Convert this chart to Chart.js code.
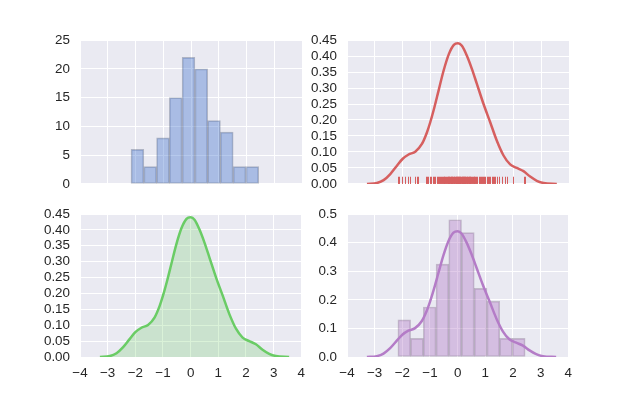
<!DOCTYPE html>
<html>
<head>
<meta charset="utf-8">
<script src="https://cdn.jsdelivr.net/npm/chart.js@4"></script>
<style>
  body { margin: 0; background: #ffffff; }
  #fig { position: relative; width: 632px; height: 397px; overflow: hidden; }
  #fig canvas { position: absolute; }
</style>
</head>
<body>
<div id="fig"></div>
<script>
// histogram bins (shared by both histograms)
const binEdges = [-2.16, -1.70, -1.24, -0.78, -0.32, 0.14, 0.60, 1.06, 1.52, 1.98, 2.44]
const histCounts = [6, 3, 8, 15, 22, 20, 11, 9, 3, 3]
const histDensity = [0.13, 0.065, 0.175, 0.325, 0.48, 0.435, 0.24, 0.195, 0.065, 0.065]

// kde curve
const kdeX = [-3.28, -2.92, -2.68, -2.44, -2.2, -2.0, -1.78, -1.54, -1.3, -1.12, -1.0, -0.85, -0.7, -0.52, -0.33, -0.15,
    0.0, 0.14, 0.32, 0.5, 0.68, 0.92, 1.16, 1.4, 1.64, 1.88, 2.12, 2.36, 2.6, 2.84, 3.08, 3.56]
const kdeY = [0, 0.003, 0.012, 0.031, 0.057, 0.078, 0.092, 0.101, 0.125, 0.161, 0.193, 0.24, 0.292, 0.354, 0.406, 0.435,
    0.44, 0.432, 0.401, 0.36, 0.313, 0.25, 0.193, 0.135, 0.089, 0.061, 0.05, 0.04, 0.023, 0.01, 0.003, 0]

// rug sample positions
const rugValues = [
    -2.15, -2.13, -2.02, -1.92, -1.81, -1.74,
    -1.54, -1.47, -1.44,
    -1.16, -1.13, -1.08, -1.01, -0.98, -0.90, -0.86, -0.82,
    -0.76, -0.72, -0.69, -0.66, -0.62, -0.58, -0.55, -0.52, -0.49, -0.46, -0.43, -0.40, -0.37, -0.35, -0.33,
    -0.31, -0.29, -0.27, -0.25, -0.22, -0.20, -0.18, -0.15, -0.13, -0.11, -0.09, -0.07, -0.05, -0.03, -0.01,
    0.01, 0.03, 0.05, 0.07, 0.09, 0.11, 0.13,
    0.15, 0.17, 0.19, 0.21, 0.23, 0.25, 0.27, 0.29, 0.31, 0.33, 0.35, 0.38, 0.40, 0.42, 0.45, 0.47, 0.50, 0.53, 0.56, 0.59,
    0.62, 0.66, 0.70, 0.74, 0.78, 0.82, 0.86, 0.90, 0.95, 0.99, 1.04,
    1.08, 1.12, 1.17, 1.21, 1.26, 1.30, 1.35, 1.42, 1.49,
    1.58, 1.69, 1.75,
    1.99, 2.38, 2.43
]

// tick labels
const xTicks = [-4, -3, -2, -1, 0, 1, 2, 3, 4]
const countTicks = [0, 5, 10, 15, 20, 25]
const kdeTicks = [0, 0.05, 0.10, 0.15, 0.20, 0.25, 0.30, 0.35, 0.40, 0.45]
const densityTicks = [0, 0.1, 0.2, 0.3, 0.4, 0.5]

const binCenters = binEdges.slice(0, -1).map((e, i) => (e + binEdges[i + 1]) / 2)
const kdePoints = () => kdeX.map((x, i) => ({x: x, y: kdeY[i]}))

Chart.defaults.font.family = '"Liberation Sans", Arial, sans-serif'
Chart.defaults.font.size = 13.4
Chart.defaults.color = '#262626'
Chart.defaults.animation = false

const bgPlugin = {
    id: 'bg',
    beforeDraw(chart) {
        const a = chart.chartArea
        chart.ctx.save()
        chart.ctx.fillStyle = '#EAEAF2'
        chart.ctx.fillRect(a.left, a.top, a.right - a.left, a.bottom - a.top)
        chart.ctx.restore()
    }
}

const rugPlugin = {
    id: 'rug',
    afterDatasetsDraw(chart) {
        const a = chart.chartArea
        const xs = chart.scales.x
        const h = (a.bottom - a.top) * 0.05
        const ctx = chart.ctx
        ctx.save()
        ctx.strokeStyle = '#D65F5F'
        ctx.lineWidth = 1
        rugValues.forEach(v => {
            const px = Math.round(xs.getPixelForValue(v)) + 0.5
            ctx.beginPath()
            ctx.moveTo(px, a.bottom)
            ctx.lineTo(px, a.bottom - h)
            ctx.stroke()
        })
        ctx.restore()
    }
}

const minus = v => (v < 0 ? '\u2212' + Math.abs(v) : String(v))

function xScale(showLabels) {
    return {
        type: 'linear',
        min: -4,
        max: 4,
        offset: false,
        afterBuildTicks: s => { s.ticks = xTicks.map(v => ({value: v})) },
        afterFit: s => { s.height = showLabels ? 30 : 0 },
        grid: {color: '#ffffff', lineWidth: 1, drawTicks: false, offset: false},
        border: {display: false},
        ticks: {display: showLabels, padding: 8, autoSkip: false, maxRotation: 0, callback: v => minus(v)}
    }
}

function yScale(max, ticks, digits) {
    return {
        min: 0,
        max: max,
        afterBuildTicks: s => { s.ticks = ticks.map(v => ({value: v})) },
        afterFit: s => { s.width = 60 },
        grid: {color: '#ffffff', lineWidth: 1, drawTicks: false},
        border: {display: false},
        ticks: {padding: 10, autoSkip: false, callback: v => v.toFixed(digits)}
    }
}

function build(canvas, makeConfig) {
    const config = makeConfig()
    config.options.responsive = false
    config.options.maintainAspectRatio = false
    config.options.layout = {padding: {left: 0, top: 4, right: 8, bottom: 4}}
    config.options.plugins = {legend: {display: false}, tooltip: {enabled: false}}
    config.plugins = [bgPlugin].concat(config.plugins || [])
    return new Chart(canvas, config)
}

// draw once, measure the plot area, then redraw at the size that puts it where it belongs
function addChart(area, makeConfig) {
    const canvas = document.createElement('canvas')
    canvas.width = area.w + 100
    canvas.height = area.h + 60
    document.getElementById('fig').appendChild(canvas)
    let chart = build(canvas, makeConfig)
    const a = chart.chartArea
    const w = canvas.width + area.w - (a.right - a.left)
    const h = canvas.height + area.h - (a.bottom - a.top)
    chart.destroy()
    canvas.width = w
    canvas.height = h
    chart = build(canvas, makeConfig)
    const b = chart.chartArea
    canvas.style.left = (area.x - b.left) + 'px'
    canvas.style.top = (area.y - b.top) + 'px'
    return chart
}

const kdeLine = (color, fill) => ({
    type: 'line',
    data: kdePoints(),
    borderColor: color,
    borderWidth: 2.5,
    pointRadius: 0,
    cubicInterpolationMode: 'monotone',
    fill: fill ? 'origin' : false,
    backgroundColor: fill ? 'rgba(106,204,101,0.25)' : 'transparent',
    order: 0
})

// top left: counts histogram
addChart({x: 80, y: 40, w: 222, h: 144}, () => ({
    type: 'bar',
    data: {
        datasets: [{
            data: binCenters.map((c, i) => ({x: c, y: histCounts[i]})),
            backgroundColor: 'rgba(72,120,207,0.4)',
            borderColor: 'rgba(40,55,90,0.3)',
            borderWidth: 1,
            borderSkipped: false,
            barPercentage: 1,
            categoryPercentage: 1
        }]
    },
    options: {scales: {x: xScale(false), y: yScale(25, countTicks, 0)}}
}))

// top right: kde + rug
addChart({x: 347, y: 40, w: 222, h: 144}, () => ({
    type: 'line',
    data: {datasets: [kdeLine('#D65F5F', false)]},
    options: {scales: {x: xScale(false), y: yScale(0.45, kdeTicks, 2)}},
    plugins: [rugPlugin]
}))

// bottom left: shaded kde
addChart({x: 80, y: 214, w: 222, h: 143}, () => ({
    type: 'line',
    data: {datasets: [kdeLine('#6ACC65', true)]},
    options: {scales: {x: xScale(true), y: yScale(0.45, kdeTicks, 2)}}
}))

// bottom right: density histogram + kde
addChart({x: 347, y: 214, w: 222, h: 143}, () => ({
    type: 'bar',
    data: {
        datasets: [
            kdeLine('#B47CC7', false),
            {
                type: 'bar',
                data: binCenters.map((c, i) => ({x: c, y: histDensity[i]})),
                backgroundColor: 'rgba(180,124,199,0.4)',
                borderColor: 'rgba(70,45,80,0.25)',
                borderWidth: 1,
                borderSkipped: false,
                barPercentage: 1,
                categoryPercentage: 1,
                order: 1
            }
        ]
    },
    options: {scales: {x: xScale(true), y: yScale(0.5, densityTicks, 1)}}
}))
</script>
</body>
</html>
